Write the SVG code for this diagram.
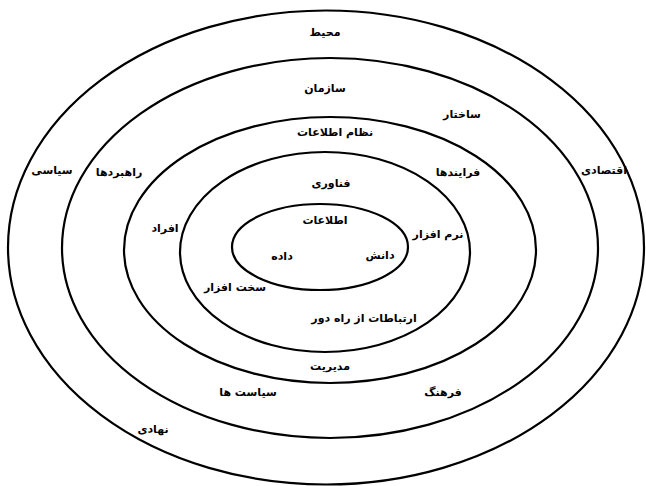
<svg xmlns="http://www.w3.org/2000/svg" width="646" height="486" viewBox="0 0 646 486">
<style>
.ring{fill:none;stroke:#000;stroke-width:2.2}
.lbl{font-family:"DejaVu Sans","Noto Sans",sans-serif;font-size:11px;font-weight:bold;fill:#000;text-anchor:middle;dominant-baseline:central}
</style>
<rect width="646" height="486" fill="#fff"/>
<g id="environment">
<ellipse class="ring" cx="326" cy="247.5" rx="318" ry="237"/>
<text class="lbl" x="325" y="32">محیط</text>
<text class="lbl" x="52" y="170">سیاسی</text>
<text class="lbl" x="604" y="170">اقتصادی</text>
<text class="lbl" x="153" y="429">نهادی</text>
</g>
<g id="organization">
<ellipse class="ring" cx="330" cy="248" rx="268" ry="190"/>
<text class="lbl" x="325" y="88">سازمان</text>
<text class="lbl" x="462" y="114">ساختار</text>
<text class="lbl" x="119" y="172">راهبردها</text>
<text class="lbl" x="248" y="392">سیاست ها</text>
<text class="lbl" x="443" y="392">فرهنگ</text>
</g>
<g id="information-system">
<ellipse class="ring" cx="330" cy="250" rx="206" ry="133"/>
<text class="lbl" x="335" y="132">نظام اطلاعات</text>
<text class="lbl" x="458" y="172">فرایندها</text>
<text class="lbl" x="165" y="228">افراد</text>
<text class="lbl" x="330" y="366">مدیریت</text>
</g>
<g id="technology">
<ellipse class="ring" cx="325" cy="252" rx="145" ry="100"/>
<text class="lbl" x="331" y="183">فناوری</text>
<text class="lbl" x="438" y="234">نرم افزار</text>
<text class="lbl" x="235" y="287">سخت افزار</text>
<text class="lbl" x="364" y="318">ارتباطات از راه دور</text>
</g>
<g id="information">
<ellipse class="ring" cx="320" cy="247" rx="88" ry="43"/>
<text class="lbl" x="325" y="220">اطلاعات</text>
<text class="lbl" x="282" y="256">داده</text>
<text class="lbl" x="380" y="255">دانش</text>
</g>
</svg>
